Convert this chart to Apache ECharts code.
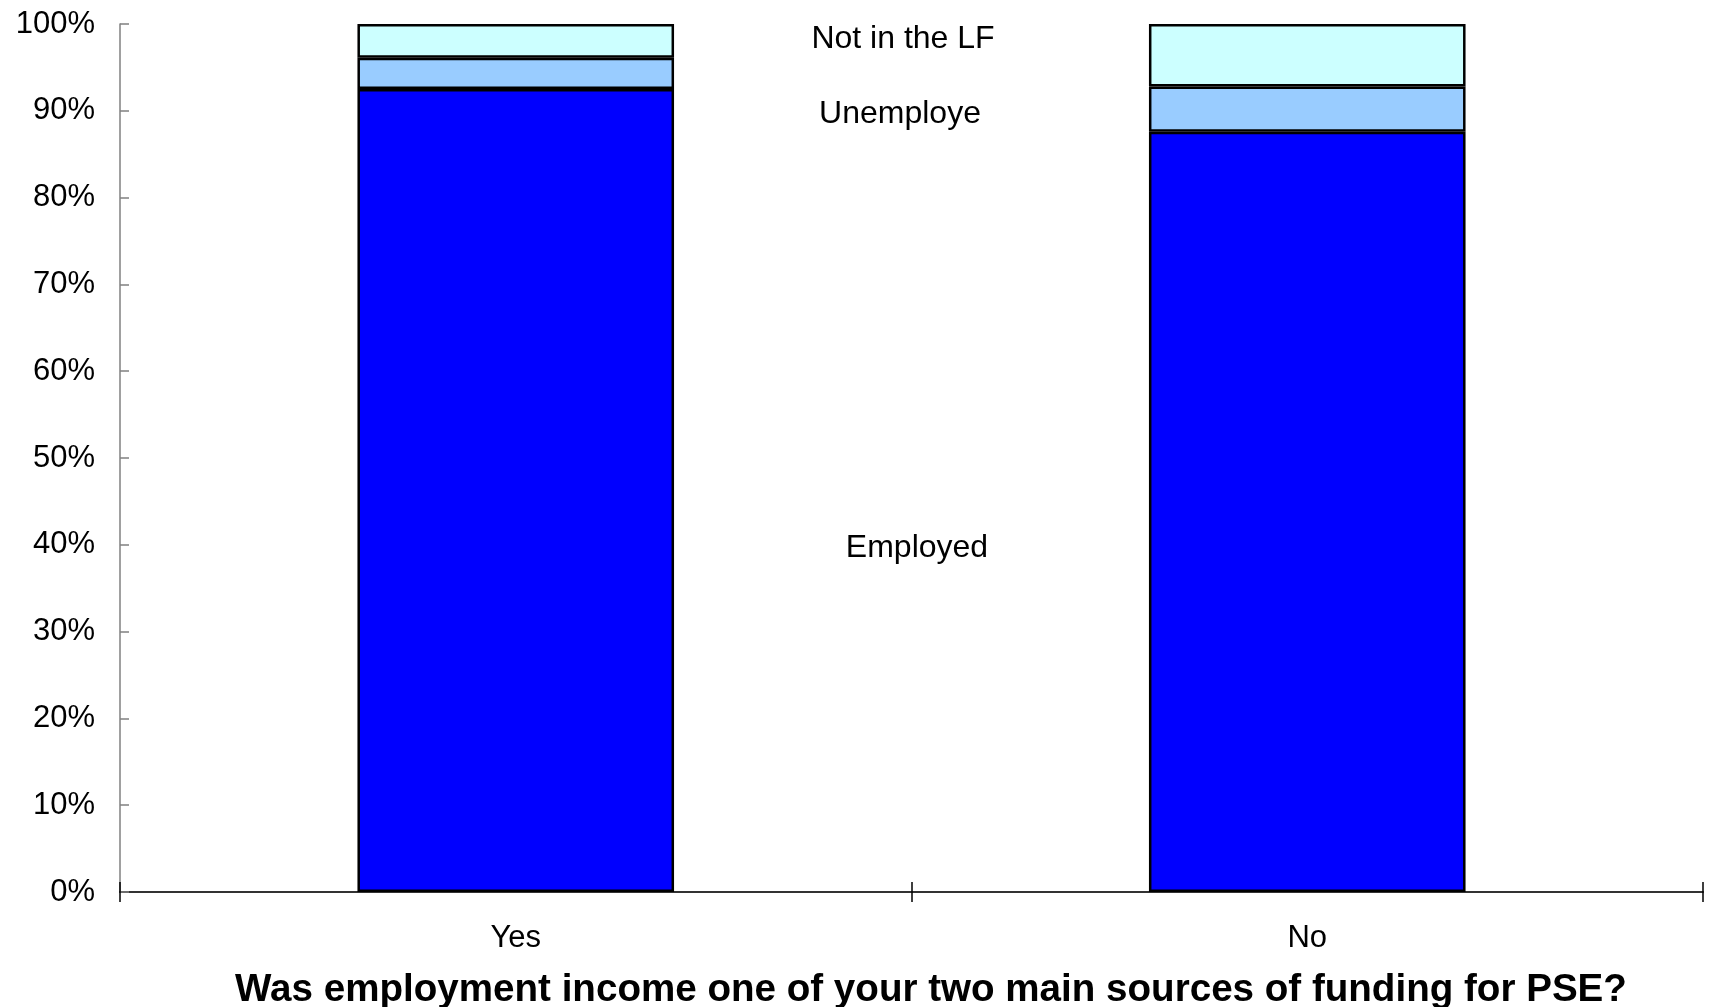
<!DOCTYPE html>
<html>
<head>
<meta charset="utf-8">
<script src="https://cdn.jsdelivr.net/npm/echarts@6/dist/echarts.min.js"></script>
<style>
html,body{margin:0;padding:0;background:#fff;}
#c{width:1710px;height:1007px;}
</style>
</head>
<body>
<div id="c"></div>
<script>
var categories = ['Yes', 'No'];
var employed = [92.5, 87.6];
var unemployed = [3.6, 5.2];
var notInLF = [3.9, 7.2];
var seriesNames = ['Employed', 'Unemploye', 'Not in the LF'];
var seriesLabelValues = [39.6, 89.6, 98.2];
var yTicks = [0, 10, 20, 30, 40, 50, 60, 70, 80, 90, 100];
var xTitle = 'Was employment income one of your two main sources of funding for PSE?';

var font = '"Liberation Sans", Arial, sans-serif';
var chart = echarts.init(document.getElementById('c'), null, {renderer: 'canvas'});
var grid = {left: 120, right: 7, top: 24, bottom: 115};

function barSeries(name, data, color) {
  return {
    name: name, type: 'bar', stack: 'total', data: data, barWidth: '40%',
    itemStyle: {color: color, borderColor: '#000', borderWidth: 2.5},
    emphasis: {disabled: true}
  };
}

var option = {
  animation: false,
  backgroundColor: '#fff',
  grid: grid,
  xAxis: [{
    type: 'category', data: categories, position: 'bottom',
    axisLine: {lineStyle: {color: '#333', width: 2}},
    axisTick: {show: true, alignWithLabel: false, length: 10, lineStyle: {color: '#000', width: 1.5}},
    axisLabel: {fontFamily: font, fontSize: 31, color: '#000', margin: 31},
    splitLine: {show: false}
  }, {
    type: 'category', data: categories, position: 'bottom', gridIndex: 0,
    axisLine: {show: false},
    axisTick: {show: true, inside: true, length: 10, lineStyle: {color: '#000', width: 1.5}},
    axisLabel: {show: false}
  }],
  yAxis: {
    type: 'value', min: 0, max: 100, interval: 10,
    axisLine: {show: true, lineStyle: {color: '#808080', width: 1.5}},
    axisTick: {show: true, inside: true, length: 9, lineStyle: {color: '#808080', width: 1.5}},
    axisLabel: {fontFamily: font, fontSize: 31, color: '#000', margin: 25,
      formatter: function (v) { return yTicks.indexOf(v) >= 0 ? v + '%' : ''; }},
    splitLine: {show: false}
  },
  series: [
    barSeries(seriesNames[0], employed, '#0000FF'),
    barSeries(seriesNames[1], unemployed, '#99CCFF'),
    barSeries(seriesNames[2], notInLF, '#CCFFFF')
  ]
};
chart.setOption(option);

var graphics = [];
var labelX = [917, 900, 903];
for (var i = 0; i < seriesNames.length; i++) {
  var py = chart.convertToPixel({yAxisIndex: 0}, seriesLabelValues[i]);
  graphics.push({
    type: 'text', x: labelX[i], y: py,
    style: {text: seriesNames[i], font: '32px ' + font, fill: '#000', textAlign: 'center', textVerticalAlign: 'middle'}
  });
}
graphics.push({
  type: 'text', x: 931, y: 990,
  style: {text: xTitle, font: 'bold 38.6px ' + font, fill: '#000', textAlign: 'center', textVerticalAlign: 'middle'}
});
chart.setOption({graphic: graphics});
</script>
</body>
</html>
